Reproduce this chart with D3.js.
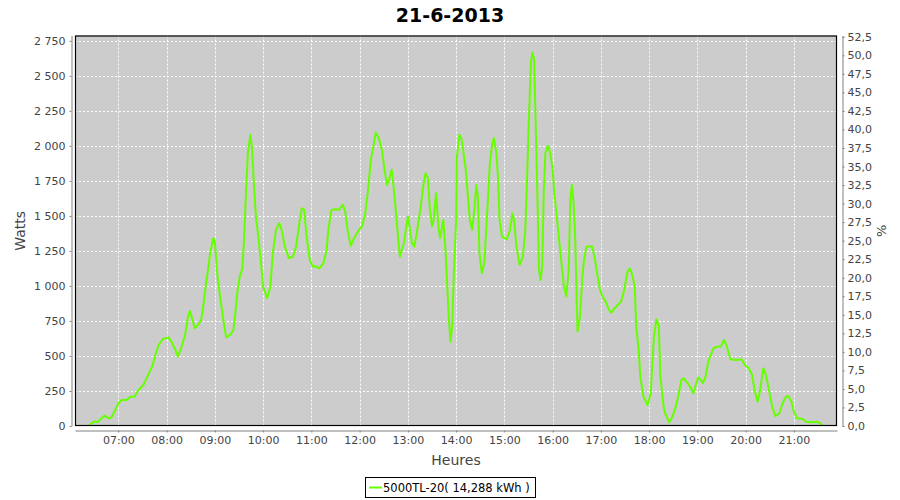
<!DOCTYPE html>
<html><head><meta charset="utf-8">
<script src="https://cdn.jsdelivr.net/npm/d3@7/dist/d3.min.js"></script>
<style>body{margin:0;background:#fff}svg{display:block}</style>
</head><body>
<svg id="c" width="900" height="500"></svg>
<script>
const title = "21-6-2013";
const seriesName = "5000TL-20( 14,288 kWh )";
const times = ["06:23","06:29","06:35","06:39","06:43","06:48","06:51","06:55","07:00","07:04","07:10","07:15","07:20","07:25","07:31","07:35","07:42","07:46","07:50","07:55","08:02","08:06","08:11","08:14","08:18","08:23","08:27","08:29","08:31","08:35","08:40","08:43","08:46","08:49","08:52","08:54","08:58","09:00","09:03","09:07","09:11","09:14","09:19","09:23","09:25","09:28","09:31","09:34","09:36","09:39","09:41","09:44","09:46","09:48","09:51","09:54","09:57","10:00","10:05","10:09","10:12","10:16","10:20","10:23","10:27","10:32","10:37","10:41","10:45","10:48","10:51","10:54","10:58","11:02","11:06","11:10","11:15","11:19","11:21","11:25","11:30","11:34","11:39","11:42","11:45","11:49","11:53","11:59","12:03","12:07","12:10","12:14","12:17","12:20","12:24","12:28","12:31","12:34","12:37","12:40","12:43","12:47","12:50","12:55","12:58","13:00","13:02","13:05","13:08","13:11","13:16","13:19","13:22","13:25","13:27","13:30","13:32","13:35","13:36","13:38","13:40","13:44","13:47","13:49","13:51","13:53","13:55","13:57","14:00","14:01","14:04","14:07","14:12","14:14","14:17","14:20","14:23","14:25","14:27","14:29","14:32","14:35","14:39","14:42","14:45","14:47","14:50","14:52","14:54","14:57","15:03","15:07","15:10","15:12","15:15","15:19","15:23","15:26","15:28","15:30","15:33","15:35","15:37","15:39","15:41","15:43","15:45","15:47","15:49","15:51","15:54","15:57","16:00","16:02","16:06","16:08","16:11","16:14","16:17","16:20","16:22","16:24","16:26","16:28","16:30","16:31","16:34","16:37","16:39","16:42","16:49","16:52","16:56","16:59","17:02","17:06","17:10","17:13","17:17","17:21","17:25","17:29","17:33","17:36","17:39","17:42","17:44","17:47","17:49","17:53","17:58","18:02","18:04","18:06","18:09","18:12","18:14","18:18","18:20","18:25","18:29","18:33","18:37","18:40","18:43","18:48","18:52","18:55","18:58","19:01","19:04","19:07","19:10","19:14","19:20","19:25","19:29","19:33","19:36","19:41","19:48","19:55","19:59","20:04","20:08","20:11","20:15","20:18","20:22","20:25","20:29","20:33","20:37","20:42","20:46","20:50","20:53","20:57","21:00","21:04","21:11","21:15","21:21","21:29","21:33","21:36"];
const watts = [0,31,31,55,74,55,59,102,162,186,186,209,209,257,293,340,424,507,578,619,633,602,543,495,555,650,793,821,781,698,729,757,876,1019,1138,1233,1341,1317,1080,900,740,633,650,686,781,960,1070,1120,1300,1710,1948,2079,1995,1781,1495,1352,1186,995,912,995,1233,1400,1448,1400,1281,1198,1209,1281,1448,1555,1543,1352,1186,1138,1138,1126,1162,1257,1400,1543,1548,1543,1579,1531,1400,1286,1341,1400,1424,1519,1662,1900,1995,2095,2055,1960,1829,1721,1769,1829,1662,1400,1209,1305,1424,1495,1424,1305,1281,1376,1567,1710,1805,1769,1567,1424,1471,1662,1591,1424,1341,1471,1233,995,757,602,709,1066,1471,1924,2079,2043,1829,1686,1471,1400,1567,1721,1638,1233,1090,1162,1567,1876,2019,2055,1948,1781,1471,1352,1333,1400,1519,1471,1281,1150,1209,1400,1720,2114,2602,2667,2614,2138,1662,1114,1043,1138,1686,1948,2000,1948,1829,1662,1448,1329,1162,995,924,1114,1614,1721,1591,1352,876,674,781,1066,1186,1281,1281,1209,1066,971,924,888,829,810,841,864,888,971,1102,1126,1079,995,709,543,352,209,150,233,448,638,762,721,352,138,91,26,66,138,233,329,340,305,269,233,293,348,329,305,352,471,555,567,567,614,579,476,471,476,436,412,364,257,174,257,412,371,257,138,71,91,162,209,214,174,102,55,50,31,26,31,19,0];
const hourTicks = ["07:00","08:00","09:00","10:00","11:00","12:00","13:00","14:00","15:00","16:00","17:00","18:00","19:00","20:00","21:00"];
const wattTicks = [0,250,500,750,1000,1250,1500,1750,2000,2250,2500,2750];
const pctTicks = [0,2.5,5,7.5,10,12.5,15,17.5,20,22.5,25,27.5,30,32.5,35,37.5,40,42.5,45,47.5,50,52.5];

const parse = s => { const [h,m] = s.split(":").map(Number); return new Date(2013,5,21,h,m); };
const data = times.map((t,i)=>({t:parse(t), w:watts[i]}));

const svg = d3.select("#c");
const L=75, R=837, T=35.5, B=426;
const x = d3.scaleTime().domain([new Date(2013,5,21,6,6,3), new Date(2013,5,21,21,53,36)]).range([L,R]);
const y = d3.scaleLinear().domain([0,2788]).range([B,T]);
const y2 = d3.scaleLinear().domain([0,52.67]).range([B,T]);
const loc = d3.formatLocale({decimal:",", thousands:" ", grouping:[3], currency:["",""]});
const fW = loc.format(",d"), fP = loc.format(".1f");
const FONT = "DejaVu Sans, sans-serif";

svg.append("text").attr("x",450).attr("y",22).attr("text-anchor","middle")
  .attr("font-family",FONT).attr("font-weight","bold").attr("font-size",19).attr("fill","#000").text(title);

svg.append("rect").attr("x",L).attr("y",T).attr("width",R-L).attr("height",B-T).attr("fill","#cccccc");

const g = svg.append("g");
g.selectAll("line.h").data(wattTicks.slice(1)).join("line")
  .attr("x1",L).attr("x2",R).attr("y1",d=>Math.round(y(d))+0.5).attr("y2",d=>Math.round(y(d))+0.5)
  .attr("stroke","#fff").attr("stroke-dasharray","2,2");
g.selectAll("line.v").data(hourTicks).join("line")
  .attr("y1",T).attr("y2",B).attr("x1",d=>Math.round(x(parse(d)))+0.5).attr("x2",d=>Math.round(x(parse(d)))+0.5)
  .attr("stroke","#fff").attr("stroke-dasharray","2,2");

svg.append("clipPath").attr("id","pc").append("rect").attr("x",L).attr("y",T).attr("width",R-L).attr("height",B-T);
svg.append("path").datum(data).attr("clip-path","url(#pc)")
  .attr("d", d3.line().x(d=>x(d.t)).y(d=>y(d.w)))
  .attr("fill","none").attr("stroke","#66ff00").attr("stroke-width",2).attr("stroke-linejoin","round");

svg.append("rect").attr("x",L+0.5).attr("y",T+0.5).attr("width",R-L-1).attr("height",B-T-1)
  .attr("fill","none").attr("stroke","#000").attr("stroke-width",1.2);

function styleAxis(a){
  a.selectAll("path.domain").attr("stroke","#808080");
  a.selectAll(".tick line").attr("stroke","#808080");
  a.selectAll("text").attr("font-family",FONT).attr("font-size",11).attr("fill","#444");
}
const ax = svg.append("g").attr("transform","translate(0,430.5)")
  .call(d3.axisBottom(x).tickValues(hourTicks.map(parse)).tickFormat(d3.timeFormat("%H:%M")).tickSize(2).tickSizeOuter(0).tickPadding(4));
styleAxis(ax);
const ay = svg.append("g").attr("transform","translate(71.5,0)")
  .call(d3.axisLeft(y).tickValues(wattTicks).tickFormat(fW).tickSize(2).tickSizeOuter(0).tickPadding(4));
styleAxis(ay);
const ay2 = svg.append("g").attr("transform","translate(842.5,0)")
  .call(d3.axisRight(y2).tickValues(pctTicks).tickFormat(fP).tickSize(2).tickSizeOuter(0).tickPadding(3));
styleAxis(ay2);

svg.append("text").attr("transform",`translate(25,${(T+B)/2}) rotate(-90)`).attr("text-anchor","middle")
  .attr("font-family",FONT).attr("font-size",14).attr("fill","#444").text("Watts");
svg.append("text").attr("transform",`translate(886,${(T+B)/2}) rotate(-90)`).attr("text-anchor","middle")
  .attr("font-family",FONT).attr("font-size",13).attr("fill","#444").text("%");
svg.append("text").attr("x",(L+R)/2).attr("y",465).attr("text-anchor","middle")
  .attr("font-family",FONT).attr("font-size",14).attr("fill","#444").text("Heures");

const lg = svg.append("g");
lg.append("rect").attr("x",365.5).attr("y",477.5).attr("width",170).attr("height",20).attr("fill","#fff").attr("stroke","#000");
lg.append("line").attr("x1",369).attr("x2",382).attr("y1",487.5).attr("y2",487.5).attr("stroke","#66ff00").attr("stroke-width",2);
lg.append("text").attr("x",383).attr("y",491.5).attr("font-family",FONT).attr("font-size",11.5).attr("fill","#000").text(seriesName);
</script>
</body></html>
